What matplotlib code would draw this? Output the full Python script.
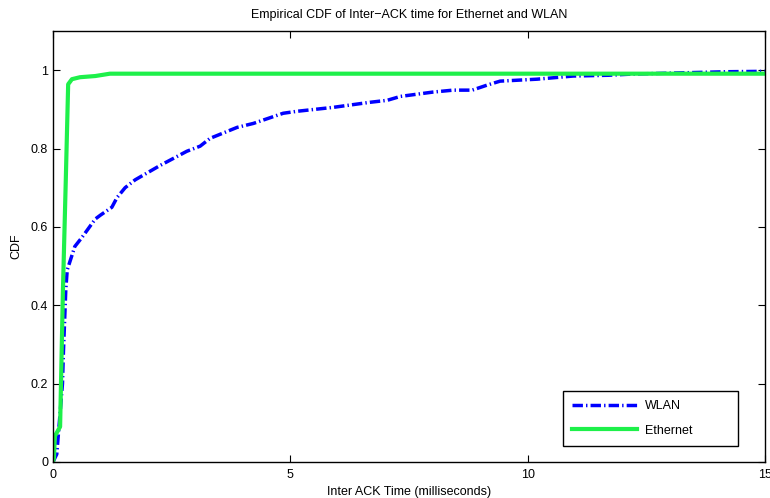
import numpy as np
import matplotlib
matplotlib.use('Agg')
import matplotlib.pyplot as plt

# Data (ms, CDF)
wlan_t = [0, 0.08, 0.12, 0.2, 0.22, 0.27, 0.3, 0.46, 0.61, 0.89, 1.0, 1.24, 1.35,
          1.52, 1.73, 2.26, 2.82, 3.1, 3.31, 3.88, 4.22, 4.85, 5.14, 5.9, 6.68,
          7.04, 7.32, 8.0, 8.43, 8.83, 9.15, 9.42, 10.2, 10.96, 11.7, 12.2, 14.2, 15]
wlan_cdf = [0, 0.02, 0.08, 0.2, 0.28, 0.44, 0.49, 0.55, 0.573, 0.62, 0.63, 0.65, 0.675,
            0.70, 0.72, 0.757, 0.793, 0.806, 0.826, 0.854, 0.864, 0.89, 0.895, 0.905, 0.918,
            0.923, 0.933, 0.944, 0.949, 0.949, 0.962, 0.972, 0.977, 0.985, 0.987, 0.99, 0.996, 0.997]

eth_t = [0, 0.02, 0.04, 0.15, 0.21, 0.27, 0.32, 0.4, 0.57, 0.89, 1.2, 15]
eth_cdf = [0, 0.01, 0.066, 0.09, 0.44, 0.72, 0.964, 0.977, 0.982, 0.985, 0.991, 0.991]

xticks = [0, 5, 10, 15]
yticks = [0, 0.2, 0.4, 0.6, 0.8, 1]
ytick_labels = ['0', '0.2', '0.4', '0.6', '0.8', '1']

plt.rcParams['font.family'] = ['Liberation Sans', 'DejaVu Sans']
plt.rcParams['font.size'] = 9

fig = plt.figure(figsize=(7.7, 4.98), dpi=100)
ax = fig.add_axes([0.0688, 0.0723, 0.9247, 0.8655])

ax.plot(wlan_t, wlan_cdf, color='#0000ff', lw=2.5, linestyle=(0, (3, 0.9, 0.4, 0.9)),
        label='WLAN')
ax.plot(eth_t, eth_cdf, color='#1ef04a', lw=3, label='Ethernet')

ax.set_xlim(0, 15)
ax.set_ylim(0, 1.1)
ax.set_xticks(xticks)
ax.set_xticklabels([str(v) for v in xticks])
ax.set_yticks(yticks)
ax.set_yticklabels(ytick_labels)
ax.tick_params(direction='in', length=5, width=0.8, top=True, right=True,
               labelsize=9, colors='black')
ax.tick_params(axis='x', pad=5)
for s in ax.spines.values():
    s.set_linewidth(1.0)

ax.set_title('Empirical CDF of Inter\u2212ACK time for Ethernet and WLAN', fontsize=9, pad=9)
ax.set_xlabel('Inter ACK Time (milliseconds)', fontsize=9, labelpad=4)
ax.set_ylabel('CDF', fontsize=9, labelpad=6)

leg = ax.legend(loc='lower left', bbox_to_anchor=(0.716, 0.037, 0.246, 0.12),
                mode='expand', fancybox=False, edgecolor='black', framealpha=1,
                fontsize=9, handlelength=5.2, handletextpad=0.6,
                borderpad=0.75, labelspacing=1.0, borderaxespad=0)
leg.get_frame().set_linewidth(1.0)

fig.savefig('out.png', dpi=100)
